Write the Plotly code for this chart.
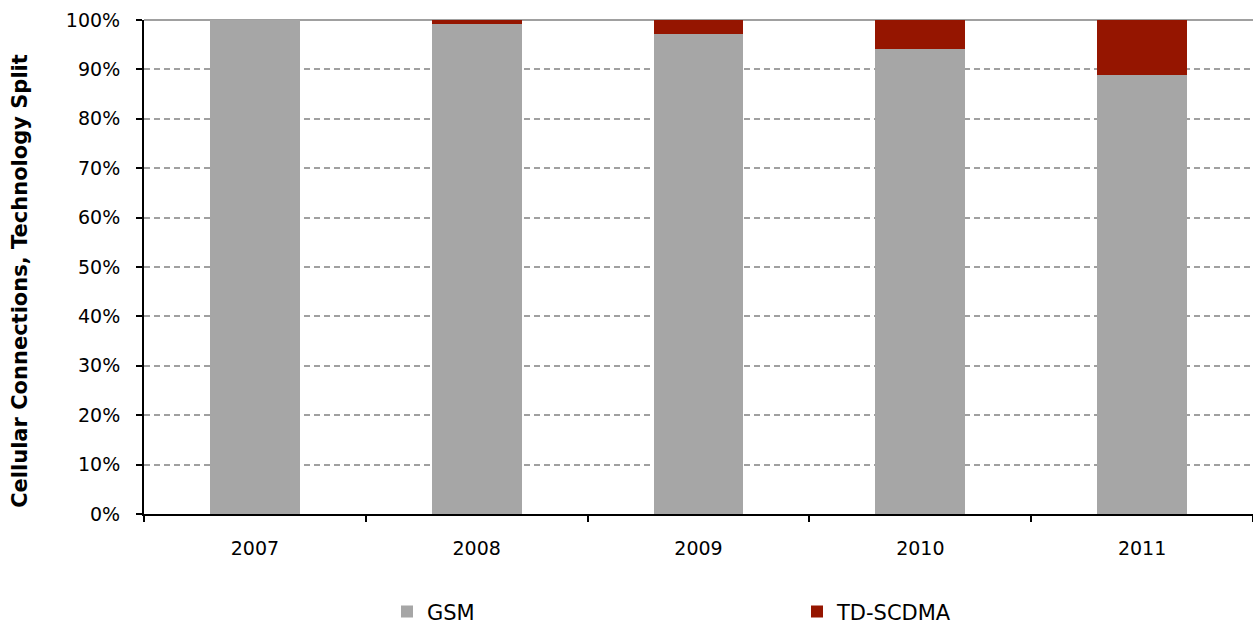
import plotly.graph_objects as go

years = ["2007", "2008", "2009", "2010", "2011"]
gsm = [100.0, 99.2, 97.2, 94.1, 88.9]
td_scdma = [0.0, 0.8, 2.8, 5.9, 11.1]
y_ticks = [0, 10, 20, 30, 40, 50, 60, 70, 80, 90, 100]
y_tick_labels = [f"{v}%" for v in y_ticks]
y_title = "Cellular Connections, Technology Split"

font_family = "DejaVu Sans, Verdana, sans-serif"

fig = go.Figure()
fig.add_trace(go.Bar(x=years, y=gsm, name="GSM", legend="legend", showlegend=True,
                     marker=dict(color="#A6A6A6", line=dict(width=0))))
fig.add_trace(go.Bar(x=years, y=td_scdma, name="TD-SCDMA", legend="legend2", showlegend=True,
                     marker=dict(color="#951500", line=dict(width=0))))

legend_common = dict(xref="container", yref="container", y=0.021, yanchor="middle",
                     xanchor="left", font=dict(size=21), itemclick=False,
                     bgcolor="rgba(0,0,0,0)", visible=True)

fig.update_layout(
    showlegend=True,
    barmode="stack",
    bargap=0.595,
    width=1253, height=625,
    margin=dict(l=144, r=0, t=20, b=111, autoexpand=False),
    plot_bgcolor="white", paper_bgcolor="white",
    font=dict(family=font_family, size=19, color="#000000"),
    legend=dict(x=387 / 1253, **legend_common),
    legend2=dict(x=797 / 1253, **legend_common),
    xaxis=dict(showline=True, linecolor="black", linewidth=2, ticks="outside",
               tickson="boundaries", ticklen=6, tickcolor="black", tickwidth=2,
               showgrid=False, tickfont=dict(size=19), ticklabelstandoff=16,
               automargin=False),
    yaxis=dict(range=[0, 100], tickvals=y_ticks, ticktext=y_tick_labels,
               showline=True, linecolor="black", linewidth=2, ticks="outside",
               ticklen=6, tickcolor="black", tickwidth=2,
               showgrid=True, gridcolor="#A0A0A0", griddash="6px,4px", gridwidth=1.5,
               zeroline=False, tickfont=dict(size=19), ticklabelstandoff=12,
               automargin=False),
)
fig.add_annotation(text=f"<b>{y_title}</b>", xref="paper", yref="paper",
                   x=-0.1118, y=0.472, xanchor="center", yanchor="middle",
                   textangle=-90, showarrow=False, font=dict(size=21))
fig.add_shape(type="line", xref="paper", yref="paper", x0=0, x1=1, y0=1, y1=1,
              line=dict(color="#A0A0A0", width=2), layer="below")

fig.write_html("out.html")
